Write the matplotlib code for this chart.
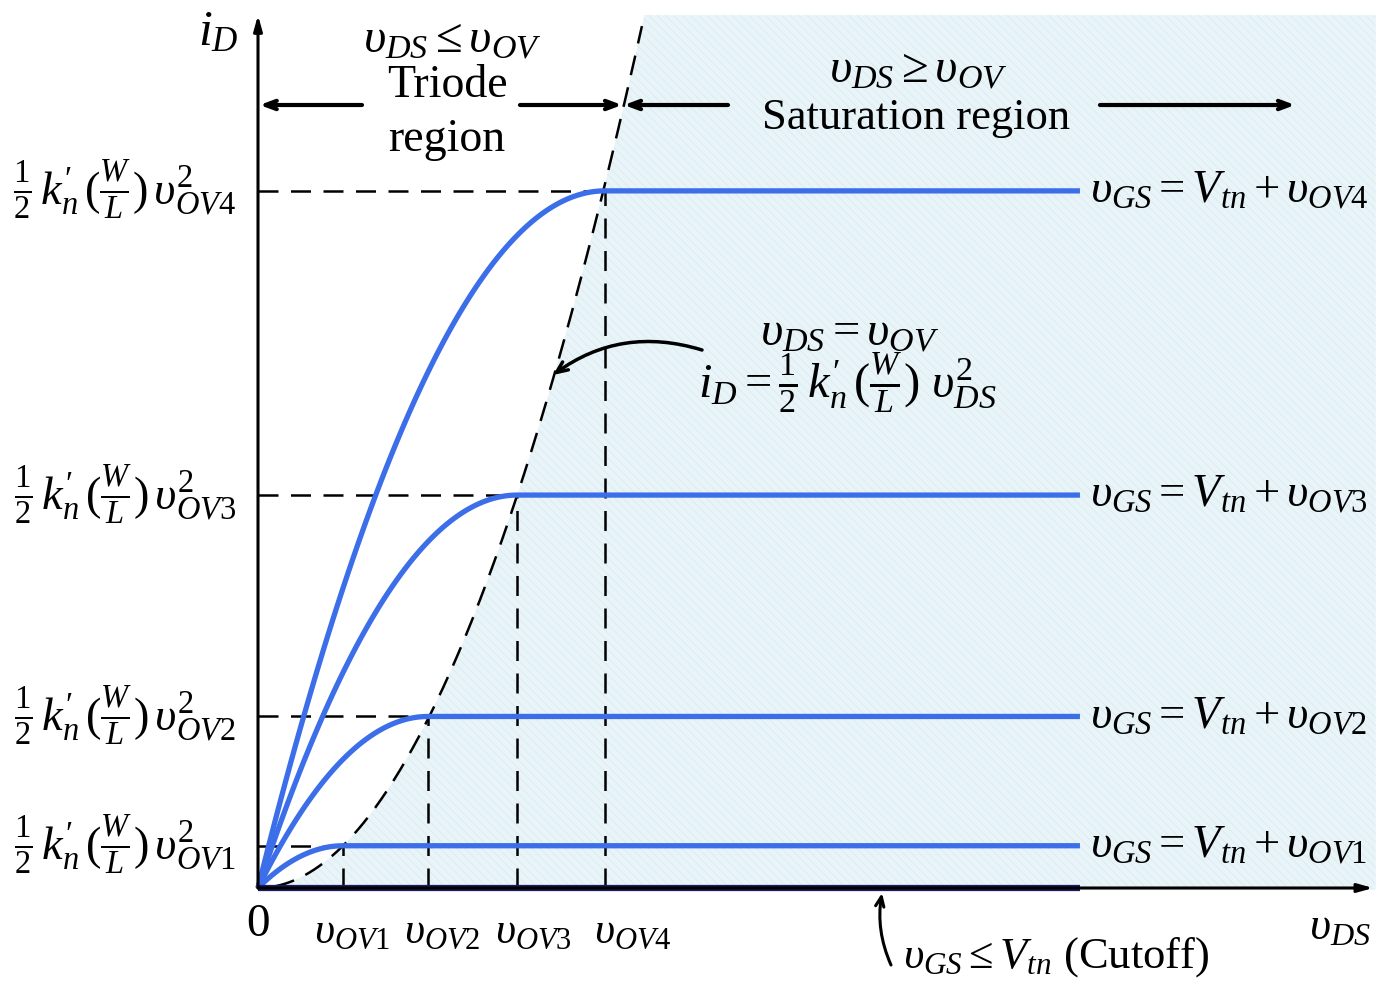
import numpy as np
import matplotlib
matplotlib.use("Agg")
import matplotlib.pyplot as plt

plt.rcParams['mathtext.fontset'] = 'custom'
plt.rcParams['mathtext.rm'] = 'Liberation Serif'
plt.rcParams['mathtext.it'] = 'Liberation Serif:italic'
plt.rcParams['mathtext.bf'] = 'Liberation Serif:bold'
plt.rcParams['font.family'] = ['Liberation Serif', 'DejaVu Serif']
plt.rcParams['hatch.linewidth'] = 0.5

# ---- data (arbitrary units) ----
vov = [1.0, 2.0, 3.05, 4.08]              # overdrive voltages vOV1..vOV4
id_sat = [0.5, 2.03, 4.65, 8.25]           # saturation currents
x_end = 9.67                               # where the characteristic curves stop
vov_labels = [r'$\upsilon_{OV1}$', r'$\upsilon_{OV2}$', r'$\upsilon_{OV3}$', r'$\upsilon_{OV4}$']
curve_labels = [r'$\upsilon_{GS} = V_{tn} + \upsilon_{OV%d}$' % (k + 1) for k in range(4)]
level_labels = [r'$\frac{1}{2}\,k_n^{\prime}\,(\frac{W}{L})\,\upsilon_{OV%d}^{2}$' % (k + 1) for k in range(4)]

BLUE = '#3b6ee8'
NAVY = '#1b1b66'

fig = plt.figure(figsize=(13.88, 9.88), dpi=100)
ax = fig.add_axes([0, 0, 1, 1])
PX, PY = 85.0, 84.5
ax.set_xlim(-258 / PX, 1130 / PX)
ax.set_ylim(-100 / PY, 888 / PY)
ax.axis('off')

y_top = 10.33
x_arrow = 13.12

# saturation region shading
vb = np.linspace(0, np.sqrt(2 * y_top), 200)
ib = 0.5 * vb ** 2
xs = np.concatenate([vb, [13.15, 13.15, 0]])
ys = np.concatenate([ib, [y_top, -0.02, -0.02]])
ax.fill(xs, ys, facecolor='#e8f4f8', edgecolor='#d8eaf0', hatch='\\\\\\\\', lw=0, zorder=0)

# boundary parabola
vb2 = np.linspace(0.2, np.sqrt(2 * 10.2), 300)
ax.plot(vb2, 0.5 * vb2 ** 2, color='black', lw=1.8, ls=(0, (8, 5)), zorder=2)

# dashed level lines and vertical lines
for v, i in zip(vov, id_sat):
    ax.plot([0, v], [i, i], color='black', lw=1.8, ls=(0, (8, 5)), zorder=2)
    ax.plot([v, v], [0, i], color='black', lw=1.8, ls=(0, (8, 5)), zorder=2)

# characteristic curves
for v, i in zip(vov, id_sat):
    x = np.linspace(0, v, 120)
    y = i * (2 * x / v - (x / v) ** 2)
    x = np.append(x, x_end)
    y = np.append(y, i)
    ax.plot(x, y, color=BLUE, lw=3.8, solid_capstyle='butt', zorder=3)
ax.plot([0, x_end], [0, 0], color=NAVY, lw=4.5, solid_capstyle='butt', zorder=4)

# axes with arrows
ax.annotate('', xy=(0, y_top), xytext=(0, 0),
            arrowprops=dict(arrowstyle='-|>,head_length=0.9,head_width=0.25', lw=2.2,
                            color='black', shrinkA=0, shrinkB=0), zorder=5)
ax.annotate('', xy=(x_arrow, 0), xytext=(0, 0),
            arrowprops=dict(arrowstyle='-|>,head_length=0.9,head_width=0.25', lw=2.2,
                            color='black', shrinkA=0, shrinkB=0), zorder=5)

# region arrows
ya = (888 - 105) / PY
def harrow(x0, x1):
    ax.annotate('', xy=(x1, ya), xytext=(x0, ya),
                arrowprops=dict(arrowstyle='->,head_length=0.8,head_width=0.3', lw=3,
                                color='black', shrinkA=0, shrinkB=0))
harrow((362 - 258) / PX, 0.02)
harrow((520 - 258) / PX, (622 - 258) / PX)
harrow((728 - 258) / PX, (624 - 258) / PX)
harrow((1100 - 258) / PX, (1295 - 258) / PX)

FS = 32
def tx(px, py, s, **kw):
    ax.text((px - 258) / PX, (888 - py) / PY, s, fontsize=kw.pop('fs', FS), **kw)

tx(218, 33, r'$i_D$', ha='center', va='center', fs=36)
tx(452, 40, r'$\upsilon_{DS} \leq \upsilon_{OV}$', ha='center', va='center', fs=35)
tx(447, 86, 'Triode', ha='center', va='center', fs=33)
tx(447, 140, 'region', ha='center', va='center', fs=33)
tx(918, 70, r'$\upsilon_{DS} \geq \upsilon_{OV}$', ha='center', va='center', fs=35)
tx(916, 118, 'Saturation region', ha='center', va='center', fs=32)

# left level labels & right curve labels
for i, ll, cl in zip(id_sat, level_labels, curve_labels):
    ax.text(-22 / PX, i, ll, fontsize=33.5, ha='right', va='center')
    ax.text(x_end + 10 / PX, i, cl, fontsize=33.5, ha='left', va='center')

# x tick labels
tx(258, 925, '0', ha='center', va='center', fs=34)
offs = [9, 14, 16, 28]
for v, lab, o in zip(vov, vov_labels, offs):
    ax.text(v + o / PX, (888 - 932) / PY, lab, fontsize=31.5, ha='center', va='center')
tx(1340, 928, r'$\upsilon_{DS}$', ha='center', va='center', fs=33)

# boundary annotation
tx(850, 333, r'$\upsilon_{DS} = \upsilon_{OV}$', ha='center', va='center', fs=35)
tx(848, 383, r'$i_D = \frac{1}{2}\,k_n^{\prime}\,(\frac{W}{L})\ \upsilon_{DS}^{2}$', ha='center', va='center', fs=35)
ax.annotate('', xy=((553 - 258) / PX, (888 - 375) / PY), xytext=((702 - 258) / PX, (888 - 350) / PY),
            arrowprops=dict(arrowstyle='->,head_length=0.8,head_width=0.35', lw=2.5, color='black',
                            connectionstyle='arc3,rad=0.25', shrinkA=0, shrinkB=0))

# cutoff annotation
tx(903, 957, r'$\upsilon_{GS} \leq V_{tn}$ (Cutoff)', ha='left', va='center', fs=32)
ax.annotate('', xy=((882 - 258) / PX, (888 - 893) / PY), xytext=((891 - 258) / PX, (888 - 965) / PY),
            arrowprops=dict(arrowstyle='->,head_length=0.7,head_width=0.3', lw=2.2, color='black',
                            connectionstyle='arc3,rad=-0.15', shrinkA=0, shrinkB=0))

fig.savefig('out.png', dpi=100)
